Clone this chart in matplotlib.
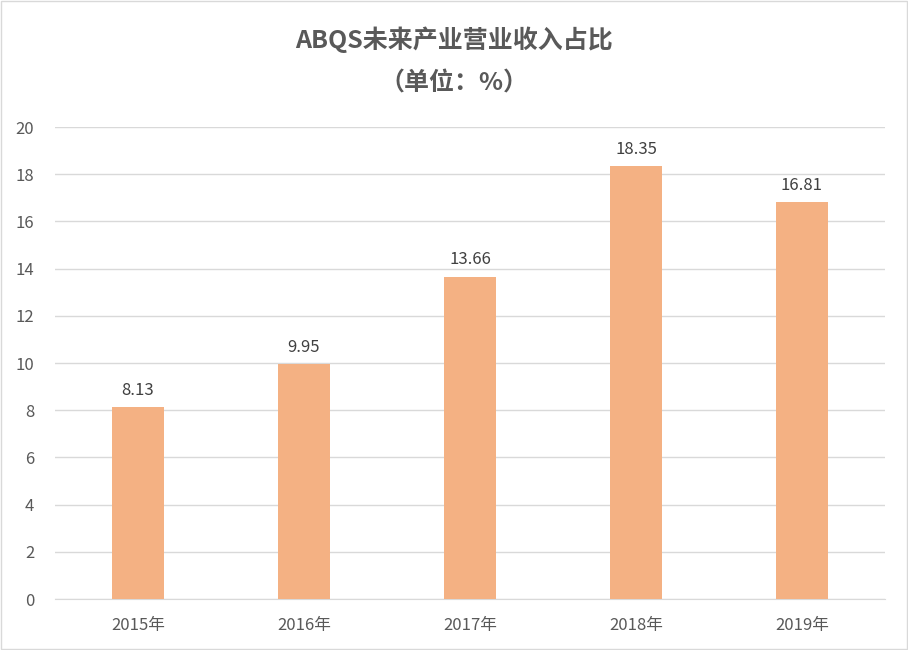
import matplotlib
matplotlib.use("Agg")
import matplotlib.pyplot as plt
from matplotlib.patches import Rectangle

plt.rcParams['font.family'] = ['Noto Sans CJK SC', 'DejaVu Sans']

categories = ["2015年", "2016年", "2017年", "2018年", "2019年"]
values = [8.13, 9.95, 13.66, 18.35, 16.81]
yticks = [0, 2, 4, 6, 8, 10, 12, 14, 16, 18, 20]
title = "ABQS未来产业营业收入占比"
subtitle = "（单位：%）"

fig = plt.figure(figsize=(9.08, 6.5), dpi=100)
ax = fig.add_axes([55/908, 1-599/650, 830/908, 472/650])

x = list(range(len(categories)))
ax.bar(x, values, width=0.313, color="#F4B183", zorder=3)
for xi, v in zip(x, values):
    ax.annotate(f"{v:.2f}", (xi, v), xytext=(0, 6), textcoords="offset points",
                ha="center", va="bottom", fontsize=12, color="#404040")

ax.set_xlim(-0.5, len(categories) - 0.5)
ax.set_ylim(0, 20)
ax.set_yticks(yticks)
ax.set_xticks(x)
ax.set_xticklabels(categories)
ax.grid(axis="y", color="#D9D9D9", linewidth=1, zorder=0)
for s in ["top", "right", "left"]:
    ax.spines[s].set_visible(False)
ax.spines["bottom"].set_color("#D9D9D9")
ax.tick_params(axis="both", length=0, labelsize=12, colors="#595959")
ax.tick_params(axis="y", pad=15)
ax.tick_params(axis="x", pad=13)

fig.text(0.5, 1-40/650, title, ha="center", va="center", fontsize=18,
         fontweight="bold", color="#595959")
fig.text(0.5, 1-83/650, subtitle, ha="center", va="center", fontsize=18,
         fontweight="bold", color="#595959")

fig.patches.append(Rectangle((0.001, 0.001), 0.998, 0.998, transform=fig.transFigure,
                             fill=False, edgecolor="#D9D9D9", linewidth=1))

fig.savefig("out.png", dpi=100)
